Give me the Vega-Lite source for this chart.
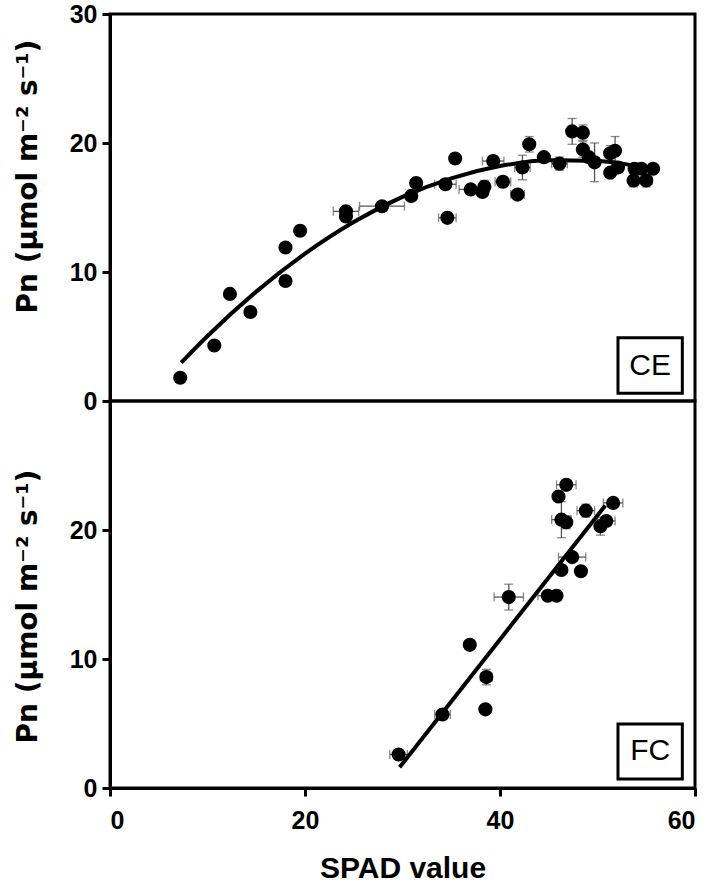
{
  "$schema": "https://vega.github.io/schema/vega-lite/v6.json",
  "padding": {"left": 12, "top": 0, "right": 12, "bottom": 2},
  "background": "white",
  "spacing": 0,
  "bounds": "flush",
  "config": {
    "view": {"stroke": "black", "strokeWidth": 3},
    "axis": {
      "domainColor": "black", "domainWidth": 3, "tickColor": "black", "tickWidth": 3, "tickSize": 8,
      "grid": false, "labelFont": "Liberation Sans", "labelFontWeight": "bold", "labelFontSize": 25,
      "labelColor": "black", "titleFont": "DejaVu Sans", "titleFontWeight": "bold", "titleFontSize": 28, "titleColor": "black"
    }
  },
  "datasets": {
    "ce": [
      {"x": 7.2, "y": 1.8, "ex": 0, "ey": 0},
      {"x": 10.7, "y": 4.3, "ex": 0, "ey": 0},
      {"x": 12.3, "y": 8.3, "ex": 0, "ey": 0},
      {"x": 14.4, "y": 6.9, "ex": 0.3, "ey": 0},
      {"x": 18.0, "y": 9.3, "ex": 0.3, "ey": 0},
      {"x": 18.0, "y": 11.9, "ex": 0.5, "ey": 0.3},
      {"x": 19.5, "y": 13.2, "ex": 0.3, "ey": 0.3},
      {"x": 24.2, "y": 14.7, "ex": 1.3, "ey": 0},
      {"x": 24.2, "y": 14.3, "ex": 0, "ey": 0},
      {"x": 27.9, "y": 15.1, "ex": 2.3, "ey": 0},
      {"x": 30.9, "y": 15.9, "ex": 0, "ey": 0},
      {"x": 31.4, "y": 16.9, "ex": 0.3, "ey": 0.3},
      {"x": 34.4, "y": 16.8, "ex": 1.1, "ey": 0},
      {"x": 34.6, "y": 14.2, "ex": 0.9, "ey": 0},
      {"x": 35.4, "y": 18.8, "ex": 0.3, "ey": 0.3},
      {"x": 37.0, "y": 16.4, "ex": 1.2, "ey": 0},
      {"x": 38.2, "y": 16.2, "ex": 0, "ey": 0.3},
      {"x": 38.4, "y": 16.6, "ex": 0, "ey": 0.5},
      {"x": 39.3, "y": 18.6, "ex": 1.1, "ey": 0.4},
      {"x": 40.3, "y": 17.0, "ex": 0.8, "ey": 0.4},
      {"x": 41.8, "y": 16.0, "ex": 0.7, "ey": 0},
      {"x": 42.3, "y": 18.1, "ex": 0.8, "ey": 0.95},
      {"x": 43.0, "y": 19.9, "ex": 0, "ey": 0.6},
      {"x": 44.5, "y": 18.9, "ex": 0, "ey": 0},
      {"x": 46.1, "y": 18.4, "ex": 0.8, "ey": 0.5},
      {"x": 47.4, "y": 20.9, "ex": 0.4, "ey": 1.0},
      {"x": 48.5, "y": 20.8, "ex": 0, "ey": 0.6},
      {"x": 48.5, "y": 19.5, "ex": 0, "ey": 0.6},
      {"x": 49.1, "y": 18.9, "ex": 0.6, "ey": 0},
      {"x": 49.7, "y": 18.5, "ex": 0, "ey": 1.5},
      {"x": 51.3, "y": 19.2, "ex": 0, "ey": 0.6},
      {"x": 51.8, "y": 19.4, "ex": 0, "ey": 1.1},
      {"x": 51.3, "y": 17.7, "ex": 0, "ey": 0},
      {"x": 52.1, "y": 18.1, "ex": 0, "ey": 0},
      {"x": 53.8, "y": 18.0, "ex": 0.5, "ey": 0},
      {"x": 53.7, "y": 17.1, "ex": 0.5, "ey": 0.5},
      {"x": 55.0, "y": 17.1, "ex": 0.6, "ey": 0.5},
      {"x": 54.5, "y": 18.0, "ex": 0, "ey": 0},
      {"x": 55.7, "y": 18.0, "ex": 0, "ey": 0}
    ],
    "ceFit": [
      {"x": 7.3, "y": 2.97}, {"x": 10, "y": 5.04}, {"x": 15, "y": 8.48}, {"x": 20, "y": 11.42},
      {"x": 25, "y": 13.87}, {"x": 30, "y": 15.82}, {"x": 35, "y": 17.26}, {"x": 40, "y": 18.21},
      {"x": 45, "y": 18.66}, {"x": 50, "y": 18.61}, {"x": 55.5, "y": 17.98}
    ],
    "fc": [
      {"x": 29.6, "y": 2.6, "ex": 0.9, "ey": 0.3},
      {"x": 34.1, "y": 5.7, "ex": 0.8, "ey": 0},
      {"x": 36.9, "y": 11.1, "ex": 0.5, "ey": 0},
      {"x": 38.6, "y": 8.6, "ex": 0.6, "ey": 0.6},
      {"x": 38.5, "y": 6.1, "ex": 0, "ey": 0},
      {"x": 40.9, "y": 14.8, "ex": 1.5, "ey": 1.0},
      {"x": 44.9, "y": 14.9, "ex": 1.0, "ey": 0},
      {"x": 45.8, "y": 14.9, "ex": 0.5, "ey": 0},
      {"x": 46.3, "y": 16.9, "ex": 0, "ey": 0},
      {"x": 47.4, "y": 17.9, "ex": 1.4, "ey": 0},
      {"x": 48.3, "y": 16.8, "ex": 0, "ey": 0},
      {"x": 46.3, "y": 20.8, "ex": 1.0, "ey": 1.4},
      {"x": 46.8, "y": 20.6, "ex": 0, "ey": 0.5},
      {"x": 46.0, "y": 22.6, "ex": 0, "ey": 0},
      {"x": 46.8, "y": 23.5, "ex": 1.0, "ey": 0},
      {"x": 48.8, "y": 21.5, "ex": 0.9, "ey": 0.5},
      {"x": 50.3, "y": 20.3, "ex": 0, "ey": 0.7},
      {"x": 50.9, "y": 20.7, "ex": 0.9, "ey": 0},
      {"x": 51.6, "y": 22.1, "ex": 1.0, "ey": 0}
    ],
    "fcFit": [
      {"x": 29.7, "y": 1.6}, {"x": 50.8, "y": 21.9}
    ]
  },
  "vconcat": [
    {
      "width": 585, "height": 387,
      "layer": [
        {
          "data": {"name": "ce"},
          "mark": {"type": "errorbar", "color": "#555", "thickness": 1.3, "ticks": {"size": 9, "thickness": 1.3}},
          "encoding": {
            "x": {"field": "x", "type": "quantitative", "title": "SPAD value", "scale": {"domain": [0, 60]}, "axis": null},
            "xError": {"field": "ex"},
            "y": {"field": "y", "type": "quantitative", "title": "Pn (μmol m⁻² s⁻¹)", "scale": {"domain": [0, 30]}}
          }
        },
        {
          "data": {"name": "ce"},
          "mark": {"type": "errorbar", "color": "#555", "thickness": 1.3, "ticks": {"size": 9, "thickness": 1.3}},
          "encoding": {
            "x": {"field": "x", "type": "quantitative", "title": "SPAD value", "scale": {"domain": [0, 60]}, "axis": null},
            "y": {"field": "y", "type": "quantitative", "title": "Pn (μmol m⁻² s⁻¹)", "scale": {"domain": [0, 30]}},
            "yError": {"field": "ey"}
          }
        },
        {
          "data": {"name": "ceFit"},
          "mark": {"type": "line", "color": "black", "strokeWidth": 4, "interpolate": "monotone"},
          "encoding": {
            "x": {"field": "x", "type": "quantitative", "title": "SPAD value", "scale": {"domain": [0, 60]}, "axis": null},
            "y": {"field": "y", "type": "quantitative", "title": "Pn (μmol m⁻² s⁻¹)", "scale": {"domain": [0, 30]}}
          }
        },
        {
          "data": {"name": "ce"},
          "mark": {"type": "circle", "color": "black", "opacity": 1, "size": 200},
          "encoding": {
            "x": {"field": "x", "type": "quantitative", "title": "SPAD value", "scale": {"domain": [0, 60]}, "axis": null},
            "y": {"field": "y", "type": "quantitative", "title": "Pn (μmol m⁻² s⁻¹)", "scale": {"domain": [0, 30]},
              "axis": {"values": [0, 10, 20, 30], "titleX": -82, "titleY": 162,
                "titleAngle": 270, "titleAlign": "center", "titleBaseline": "middle", "labelPadding": 5}}
          }
        },
        {
          "data": {"values": [{}]},
          "mark": {"type": "rect", "fill": "white", "stroke": "black", "strokeWidth": 3},
          "encoding": {
            "x": {"datum": 52.1, "type": "quantitative"}, "x2": {"datum": 58.7},
            "y": {"datum": 4.9, "type": "quantitative"}, "y2": {"datum": 0.6}
          }
        },
        {
          "data": {"values": [{}]},
          "mark": {"type": "text", "font": "Liberation Sans", "fontSize": 30, "color": "black", "align": "center", "baseline": "middle"},
          "encoding": {
            "x": {"datum": 55.4, "type": "quantitative"},
            "y": {"datum": 2.75, "type": "quantitative"},
            "text": {"value": "CE"}
          }
        }
      ]
    },
    {
      "width": 585, "height": 387,
      "layer": [
        {
          "data": {"name": "fc"},
          "mark": {"type": "errorbar", "color": "#555", "thickness": 1.3, "ticks": {"size": 9, "thickness": 1.3}},
          "encoding": {
            "x": {"field": "x", "type": "quantitative", "title": "SPAD value", "scale": {"domain": [0, 60]}},
            "xError": {"field": "ex"},
            "y": {"field": "y", "type": "quantitative", "title": "Pn (μmol m⁻² s⁻¹)", "scale": {"domain": [0, 30]}}
          }
        },
        {
          "data": {"name": "fc"},
          "mark": {"type": "errorbar", "color": "#555", "thickness": 1.3, "ticks": {"size": 9, "thickness": 1.3}},
          "encoding": {
            "x": {"field": "x", "type": "quantitative", "title": "SPAD value", "scale": {"domain": [0, 60]}},
            "y": {"field": "y", "type": "quantitative", "title": "Pn (μmol m⁻² s⁻¹)", "scale": {"domain": [0, 30]}},
            "yError": {"field": "ey"}
          }
        },
        {
          "data": {"name": "fcFit"},
          "mark": {"type": "line", "color": "black", "strokeWidth": 4},
          "encoding": {
            "x": {"field": "x", "type": "quantitative", "title": "SPAD value", "scale": {"domain": [0, 60]}},
            "y": {"field": "y", "type": "quantitative", "title": "Pn (μmol m⁻² s⁻¹)", "scale": {"domain": [0, 30]}}
          }
        },
        {
          "data": {"name": "fc"},
          "mark": {"type": "circle", "color": "black", "opacity": 1, "size": 200},
          "encoding": {
            "x": {"field": "x", "type": "quantitative", "title": "SPAD value", "scale": {"domain": [0, 60]},
              "axis": {"values": [0, 20, 40, 60], "titleFont": "Liberation Sans", "titleFontSize": 30, "titleY": 80, "titleBaseline": "middle", "labelPadding": 12}},
            "y": {"field": "y", "type": "quantitative", "title": "Pn (μmol m⁻² s⁻¹)", "scale": {"domain": [0, 30]},
              "axis": {"values": [0, 10, 20], "titleX": -82, "titleY": 205,
                "titleAngle": 270, "titleAlign": "center", "titleBaseline": "middle", "labelPadding": 5}}
          }
        },
        {
          "data": {"values": [{}]},
          "mark": {"type": "rect", "fill": "white", "stroke": "black", "strokeWidth": 3},
          "encoding": {
            "x": {"datum": 52.1, "type": "quantitative"}, "x2": {"datum": 58.7},
            "y": {"datum": 4.96, "type": "quantitative"}, "y2": {"datum": 0.7}
          }
        },
        {
          "data": {"values": [{}]},
          "mark": {"type": "text", "font": "Liberation Sans", "fontSize": 30, "color": "black", "align": "center", "baseline": "middle"},
          "encoding": {
            "x": {"datum": 55.4, "type": "quantitative"},
            "y": {"datum": 2.85, "type": "quantitative"},
            "text": {"value": "FC"}
          }
        }
      ]
    }
  ]
}
